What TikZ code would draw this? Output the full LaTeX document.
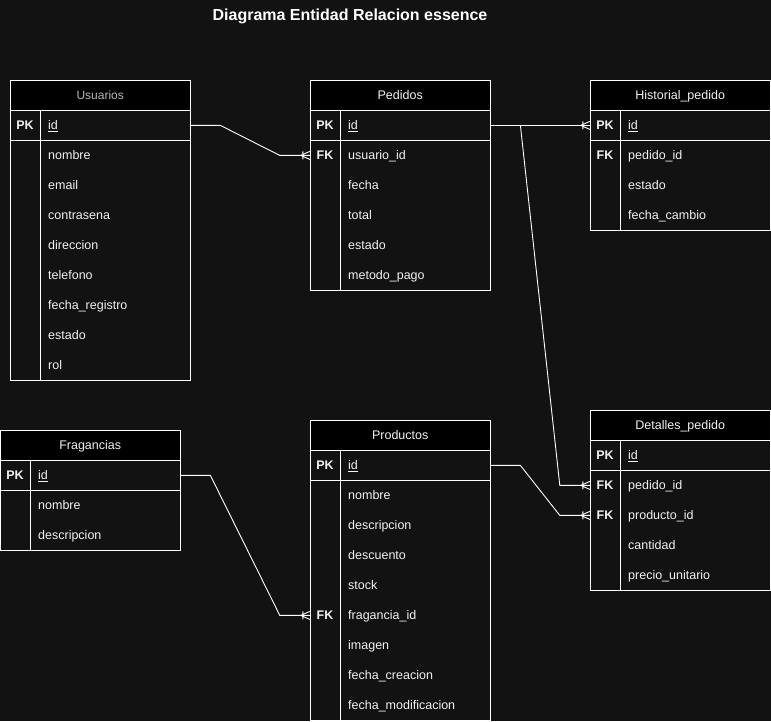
\documentclass[tikz,border=0pt]{standalone}
\usepackage{fontspec}
\setmainfont{Liberation Sans}
\usetikzlibrary{positioning,calc}
\definecolor{bgdark}{HTML}{121212}
\definecolor{txtlight}{HTML}{F2F2F2}
\definecolor{txtgrey}{HTML}{B8B8B8}
\tikzset{head/.style={draw=white,fill=black,minimum width=180pt,minimum height=30pt,inner sep=0pt,
		text height=11pt,text depth=3pt,text=txtlight,font=\fontsize{12.5}{15}\selectfont},
	keycol/.style={minimum width=30pt,minimum height=30pt,inner sep=0pt,text height=11pt,text depth=3pt,
		text=txtlight,font=\bfseries\fontsize{12.5}{15}\selectfont},
	fieldcol/.style={anchor=west,minimum height=30pt,text width=142pt,align=left,inner sep=0pt,
		text height=11pt,text depth=3pt,text=txtlight,font=\fontsize{12.5}{15}\selectfont},
	rel/.style={draw=white,line width=0.9pt},
	crow/.pic={\draw[rel] (-9,0) -- (0,-4) (-9,0) -- (0,4) (-7,-4) -- (-7,4);},
}
% name, x, y, title, number of rows, key/field list
\newcommand{\erbox}[7][]{%
	\node[head,anchor=north west,#1] (#2) at (#3,#4) {#5};
	\foreach \k/\f [count=\i] in {#7} {
		\node[keycol] (#2-k\i) at ($(#2.south west)+(15,15+30*\i-30)$) {\k};
		\node[fieldcol] (#2-\i) at ($(#2.south west)+(38,15+30*\i-30)$) {\f};
	}
	\draw[white,line width=0.9pt] (#2.south west) rectangle ($(#2.south east)+(0,30*#6)$)
		($(#2.south west)+(30,0)$) -- ($(#2.south west)+(30,30*#6)$)
		($(#2.south west)+(0,30)$) -- ($(#2.south east)+(0,30)$);
}

\begin{document}
\begin{tikzpicture}[x=1pt,y=-1pt]
	\fill[bgdark] (0,0) rectangle (771,721);
	\useasboundingbox (0,0) rectangle (771,721);
	
	\node[text=white,font=\bfseries\fontsize{16}{19}\selectfont] (title) at (350,16) {Diagrama Entidad Relacion essence};
	
	\erbox[text=txtgrey,font=\fontsize{12}{14}\selectfont]{usu}{10}{80}{Usuarios}{9}{PK/\underline{id}, /nombre, /email, /contrasena,
		/direccion, /telefono, /fecha\_registro, /estado, /rol}
	\erbox{ped}{310}{80}{Pedidos}{6}{PK/\underline{id}, FK/usuario\_id, /fecha, /total, /estado, /metodo\_pago}
	\erbox{his}{590}{80}{Historial\_pedido}{4}{PK/\underline{id}, FK/pedido\_id, /estado, /fecha\_cambio}
	\erbox{det}{590}{410}{Detalles\_pedido}{5}{PK/\underline{id}, FK/pedido\_id, FK/producto\_id, /cantidad,
		/precio\_unitario}
	\erbox{fra}{0}{430}{Fragancias}{3}{PK/\underline{id}, /nombre, /descripcion}
	\erbox{pro}{310}{420}{Productos}{9}{PK/\underline{id}, /nombre, /descripcion, /descuento, /stock,
		FK/fragancia\_id, /imagen, /fecha\_creacion, /fecha\_modificacion}
	
	% relaciones
	\draw[rel] (usu-1.east) -- ++(30,0) -- ($(ped-k2.west)+(-30,0)$) -- (ped-k2.west);
	\draw[rel] (ped-1.east) -- ++(30,0) coordinate (split) -- (his-k1.west);
	\draw[rel] (split) -- ($(det-k2.west)+(-30,0)$) -- (det-k2.west);
	\draw[rel] (pro-1.east) -- ++(30,0) -- ($(det-k3.west)+(-30,0)$) -- (det-k3.west);
	\draw[rel] (fra-1.east) -- ++(30,0) -- ($(pro-k6.west)+(-30,0)$) -- (pro-k6.west);
	
	\pic at (ped-k2.west) {crow};
	\pic at (his-k1.west) {crow};
	\pic at (det-k2.west) {crow};
	\pic at (det-k3.west) {crow};
	\pic at (pro-k6.west) {crow};
\end{tikzpicture}
\end{document}
